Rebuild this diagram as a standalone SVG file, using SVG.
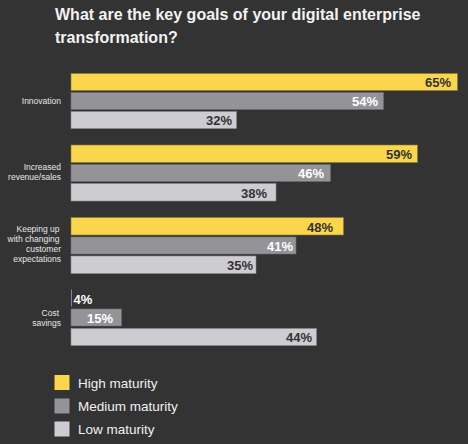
<svg xmlns="http://www.w3.org/2000/svg" width="468" height="444" viewBox="0 0 468 444">
<style>
.title{font-family:"Liberation Sans",Arial,sans-serif;font-weight:bold;font-size:16px;fill:#f2f2f2}
.cat{font-family:"Liberation Sans",Arial,sans-serif;font-size:8.5px;fill:#e6e6e6;text-anchor:end}
.val{font-family:"Liberation Sans",Arial,sans-serif;font-weight:bold;font-size:13px;text-anchor:end}
.dark{fill:#333333}
.light{fill:#ffffff}
.hi{fill:#f9d64b;stroke:#8a7a3a;stroke-width:0.6}
.med{fill:#949398;stroke:#6e6e70;stroke-width:0.6}
.lo{fill:#cdccd1;stroke:#8a8a8c;stroke-width:0.6}
.leg{font-family:"Liberation Sans",Arial,sans-serif;font-size:13.5px;fill:#f0f0f0}
</style>
<rect x="0" y="0" width="468" height="444" fill="#333333"/>
<g id="title">
<text class="title" x="55" y="20">What are the key goals of your digital enterprise</text>
<text class="title" x="55" y="43">transformation?</text>
</g>
<g id="innovation">
<text class="cat" x="61" y="103.5">Innovation</text>
<rect class="hi" x="71" y="73.5" width="386.5" height="17"/>
<text class="val dark" x="451" y="87">65%</text>
<rect class="med" x="71" y="92.5" width="312.5" height="17"/>
<text class="val light" x="378" y="106">54%</text>
<rect class="lo" x="71" y="111.5" width="165.5" height="17"/>
<text class="val dark" x="232" y="125">32%</text>
</g>
<g id="revenue">
<text class="cat" x="61" y="169.5">Increased</text>
<text class="cat" x="61" y="179.5">revenue/sales</text>
<rect class="hi" x="71" y="145" width="346.5" height="17.5"/>
<text class="val dark" x="412" y="159">59%</text>
<rect class="med" x="71" y="164.5" width="259.5" height="17"/>
<text class="val light" x="324" y="178">46%</text>
<rect class="lo" x="71" y="183.5" width="205" height="17.5"/>
<text class="val dark" x="267" y="197.5">38%</text>
</g>
<g id="customer">
<text class="cat" x="59.5" y="231.5">Keeping up</text>
<text class="cat" x="59.5" y="241.5">with changing</text>
<text class="cat" x="61" y="251.5">customer</text>
<text class="cat" x="61" y="261.5">expectations</text>
<rect class="hi" x="71" y="217.5" width="272.5" height="17.5"/>
<text class="val dark" x="333" y="231.5">48%</text>
<rect class="med" x="71" y="237" width="225" height="17"/>
<text class="val light" x="293" y="250.5">41%</text>
<rect class="lo" x="71" y="256" width="185" height="17.5"/>
<text class="val dark" x="253" y="270">35%</text>
</g>
<g id="cost">
<text class="cat" x="59" y="316">Cost</text>
<text class="cat" x="61" y="326">savings</text>
<rect x="71" y="289.5" width="0.8" height="17" fill="#9a9a9a"/>
<text class="val light" x="73.5" y="303.5" text-anchor="start" style="text-anchor:start">4%</text>
<rect class="med" x="71" y="309" width="50.5" height="17"/>
<text class="val light" x="113" y="322.5">15%</text>
<rect class="lo" x="71" y="328.5" width="245.5" height="17"/>
<text class="val dark" x="312" y="342">44%</text>
</g>
<g id="legend">
<rect class="hi" x="54.5" y="375" width="15" height="15" style="stroke:none"/>
<text class="leg" x="78" y="387.5">High maturity</text>
<rect class="med" x="54.5" y="398.5" width="15" height="15" style="stroke:none"/>
<text class="leg" x="78" y="410.5">Medium maturity</text>
<rect class="lo" x="54.5" y="421.5" width="15" height="15" style="stroke:none"/>
<text class="leg" x="78" y="434">Low maturity</text>
</g>
</svg>
